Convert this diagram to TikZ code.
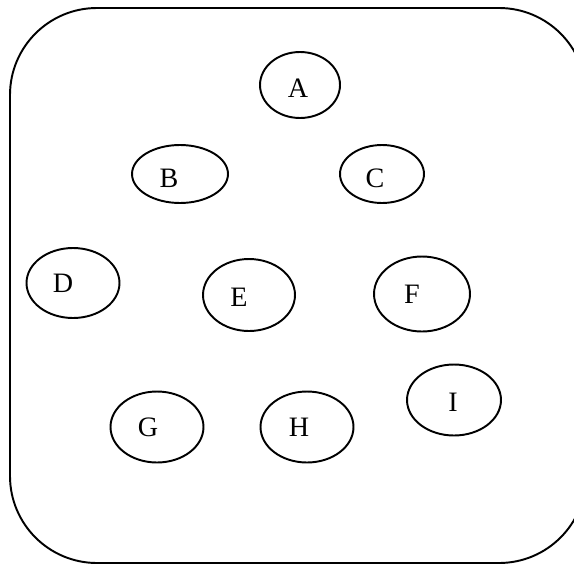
\documentclass[tikz,border=0pt]{standalone}
\usepackage{fontspec}
\setmainfont{Liberation Serif}
\usetikzlibrary{shapes.geometric}
\definecolor{lineclr}{RGB}{0,0,0}
\definecolor{txtclr}{RGB}{0,0,0}
\tikzset{
  oval/.style={ellipse,draw=lineclr,line width=1.1pt,fill=white,
    inner sep=0pt},
  lbl/.style={font=\fontsize{16}{18}\selectfont,text=txtclr,inner sep=0pt},
  frame/.style={draw=lineclr,line width=1.1pt,rounded corners=1.74cm},
}
\begin{document}
\begin{tikzpicture}[x=0.02cm,y=-0.02cm]
  \useasboundingbox (0,0) rectangle (574,565);
  \clip (0,0) rectangle (574,565);

  % outer box, runs off the right edge
  \draw[frame] (10,8) rectangle (586,563);

  % ovals, letters sit a little left of centre
  \node[oval,minimum width=1.6cm,minimum height=1.32cm,
    label={[lbl,xshift=-0.04cm,yshift=-0.06cm]center:A}] (a) at (300,85) {};
  \node[oval,minimum width=1.92cm,minimum height=1.16cm,
    label={[lbl,xshift=-0.22cm,yshift=-0.08cm]center:B}] (b) at (180,174) {};
  \node[oval,minimum width=1.68cm,minimum height=1.16cm,
    label={[lbl,xshift=-0.14cm,yshift=-0.08cm]center:C}] (c) at (382,174) {};
  \node[oval,minimum width=1.86cm,minimum height=1.4cm,
    label={[lbl,xshift=-0.2cm]center:D}] (d) at (73,283) {};
  \node[oval,minimum width=1.84cm,minimum height=1.44cm,
    label={[lbl,xshift=-0.2cm,yshift=-0.04cm]center:E}] (e) at (249,295) {};
  \node[oval,minimum width=1.92cm,minimum height=1.5cm,
    label={[lbl,xshift=-0.2cm]center:F}] (f) at (422,294) {};
  \node[oval,minimum width=1.86cm,minimum height=1.42cm,
    label={[lbl,xshift=-0.18cm]center:G}] (g) at (157,427) {};
  \node[oval,minimum width=1.86cm,minimum height=1.42cm,
    label={[lbl,xshift=-0.16cm]center:H}] (h) at (307,427) {};
  \node[oval,minimum width=1.88cm,minimum height=1.42cm,
    label={[lbl,xshift=-0.02cm,yshift=-0.04cm]center:I}] (i) at (454,400) {};

\end{tikzpicture}
\end{document}
